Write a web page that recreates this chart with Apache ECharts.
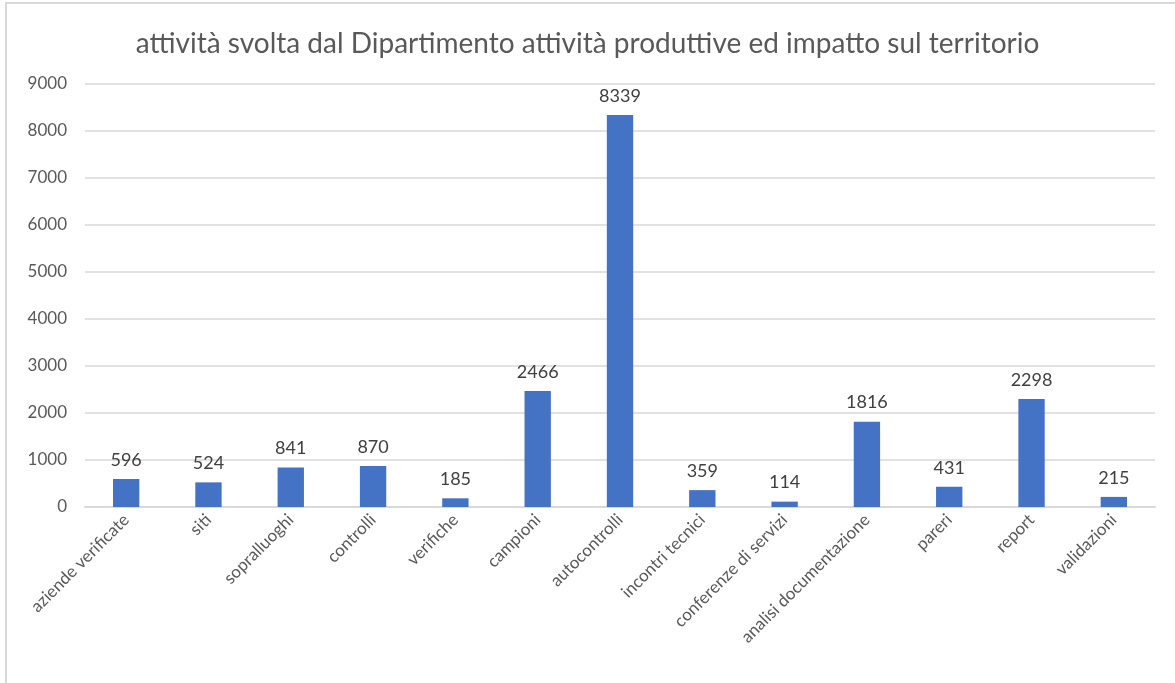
<!DOCTYPE html>
<html>
<head>
<meta charset="utf-8">
<script src="https://cdn.jsdelivr.net/npm/echarts@6/dist/echarts.min.js"></script>
<style>
html, body { margin: 0; padding: 0; background: #fff; }
#chart { width: 1175px; height: 683px; }
</style>
</head>
<body>
<div id="chart"></div>
<script>
var categories = ['aziende verificate', 'siti', 'sopralluoghi', 'controlli', 'verifiche', 'campioni', 'autocontrolli', 'incontri tecnici', 'conferenze di servizi', 'analisi documentazione', 'pareri', 'report', 'validazioni'];
var values = [596, 524, 841, 870, 185, 2466, 8339, 359, 114, 1816, 431, 2298, 215];
var yTicks = [0, 1000, 2000, 3000, 4000, 5000, 6000, 7000, 8000, 9000];

var chart = echarts.init(document.getElementById('chart'));
var font = 'Lato, "Open Sans", sans-serif';

var option = {
	backgroundColor: '#fff',
	animation: false,
	textStyle: { fontFamily: font },
	title: {
		text: 'attività svolta dal Dipartimento attività produttive ed impatto sul territorio',
		left: 'center',
		top: 25,
		textStyle: { fontFamily: font, fontSize: 28, fontWeight: 'normal', color: '#595959' }
	},
	graphic: [{
		type: 'rect',
		shape: { x: 6, y: 3, width: 1200, height: 720 },
		style: { fill: 'none', stroke: '#d9d9d9', lineWidth: 2 },
		silent: true
	}],
	grid: { left: 85, right: 20, top: 84, bottom: 176 },
	xAxis: {
		type: 'category',
		data: categories,
		axisLine: { lineStyle: { color: '#d9d9d9', width: 2 } },
		axisTick: { show: false },
		axisLabel: {
			interval: 0,
			rotate: 45,
			fontFamily: font,
			fontSize: 17,
			color: '#595959',
			margin: 10
		}
	},
	yAxis: {
		type: 'value',
		min: yTicks[0],
		max: yTicks[yTicks.length - 1],
		interval: 1000,
		axisLine: { show: false },
		axisTick: { show: false },
		splitLine: { lineStyle: { color: '#d9d9d9', width: 1.5 } },
		axisLabel: {
			fontFamily: font,
			fontSize: 17,
			color: '#595959',
			margin: 18,
			formatter: function (v) { return String(v); }
		}
	},
	series: [{
		type: 'bar',
		data: values,
		barWidth: '32%',
		itemStyle: { color: '#4472c4' },
		label: {
			show: true,
			position: 'top',
			distance: 10,
			fontFamily: font,
			fontSize: 18,
			color: '#404040'
		}
	}]
};
chart.setOption(option);
</script>
</body>
</html>
